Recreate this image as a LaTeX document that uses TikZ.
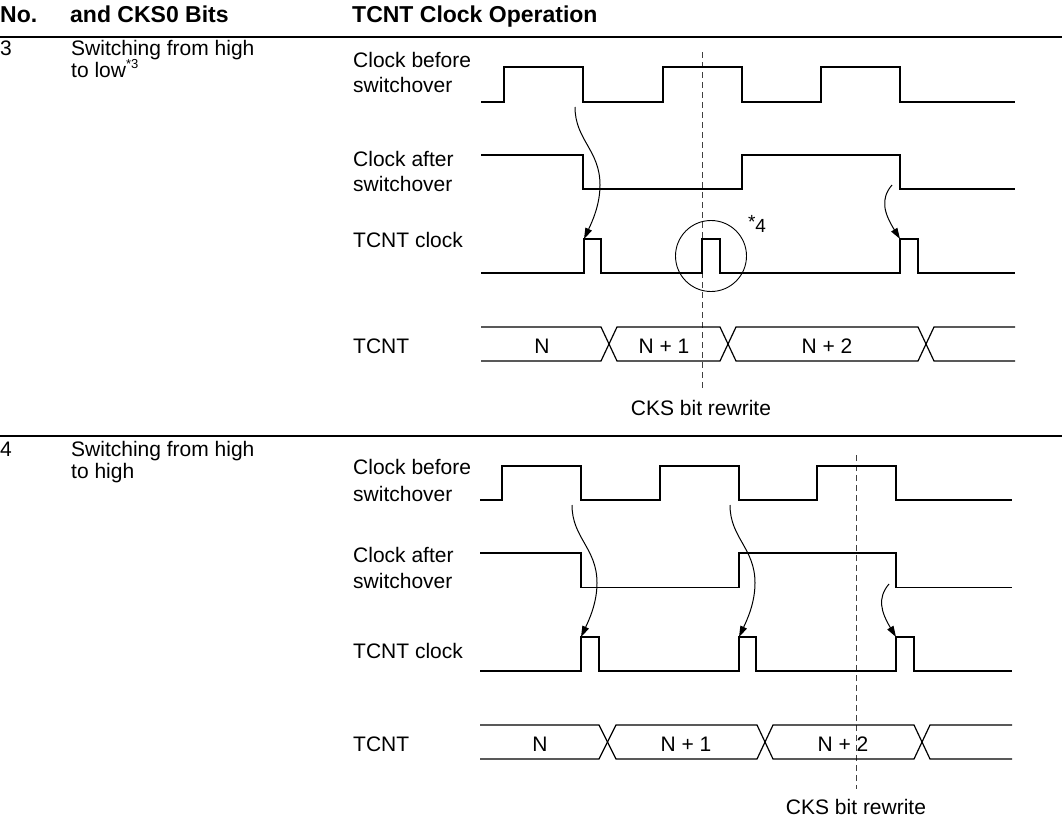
\documentclass[tikz,border=0pt]{standalone}
\usepackage{fontspec}
\setmainfont{Liberation Sans}
\usetikzlibrary{arrows.meta}
\begin{document}
\begin{tikzpicture}[x=1pt,y=-1pt,
  lbl/.style={anchor=base west, inner sep=0pt, font=\fontsize{21}{25}\selectfont},
  hdr/.style={anchor=base west, inner sep=0pt, font=\fontsize{23}{27}\selectfont\bfseries},
  val/.style={anchor=base, inner sep=0pt, font=\fontsize{21}{25}\selectfont},
  wave/.style={line width=1.4pt, line join=miter},
  bus/.style={line width=1.2pt},
  rew/.style={line width=1pt, black!75, dash pattern=on 6pt off 4pt},
  curv/.style={line width=1pt, -{Triangle[length=11pt,width=7pt]}},
  rule/.style={line width=1.5pt},
]
\useasboundingbox (0,0) rectangle (1062,819);

% header
\node[hdr] (hNo) at (0,23) {No.};
\node[hdr] (hBits) at (70,23) {and CKS0 Bits};
\node[hdr] (hOp) at (352,23) {TCNT Clock Operation};
\draw[line width=2.5pt] (0,37) -- (1062,37);

% ---------------- row 3 ----------------
\node[lbl] (n3) at (0,55) {3};
\node[lbl] (t3a) at (71,55) {Switching from high};
\node[lbl] (t3b) at (71,77) {to low\raisebox{9pt}{\fontsize{13}{13}\selectfont *3}};

\node[lbl] (c3b1) at (353,67) {Clock before};
\node[lbl] (c3b2) at (353,92) {switchover};
\node[lbl] (c3a1) at (353,166) {Clock after};
\node[lbl] (c3a2) at (353,191) {switchover};
\node[lbl] (c3t) at (353,247) {TCNT clock};
\node[lbl] (c3n) at (353,353) {TCNT};

\draw[rew] (702,52) -- (702,391);

\draw[wave] (481,102) -- (504,102) -- (504,67) -- (583,67) -- (583,102) -- (663,102) -- (663,67) -- (742,67) -- (742,102) -- (821,102) -- (821,67) -- (900,67) -- (900,102) -- (1015,102);
\draw[wave] (481,155) -- (583,155) -- (583,189) -- (742,189) -- (742,155) -- (900,155) -- (900,189) -- (1015,189);
\draw[wave] (481,273) -- (584,273) -- (584,239) -- (601,239) -- (601,273) -- (702,273) -- (702,239) -- (720,239) -- (720,273) -- (900,273) -- (900,239) -- (918,239) -- (918,273) -- (1015,273);

\draw[bus] (481,327) -- (601,327) -- (617,361) -- (720,361) -- (736,327) -- (918,327) -- (934,361) -- (1015,361);
\draw[bus] (481,361) -- (601,361) -- (617,327) -- (720,327) -- (736,361) -- (918,361) -- (934,327) -- (1015,327);
\node[val] (v3a) at (542,353) {N};
\node[val] (v3b) at (664,353) {N + 1};
\node[val] (v3c) at (827,353) {N + 2};

\node[val] (r3) at (701,415) {CKS bit rewrite};

\node[draw, circle, line width=0.9pt, minimum size=71pt, inner sep=0pt] (circ) at (711,256) {};
\node[inner sep=0pt, font=\fontsize{19}{19}\selectfont] (s4) at (757,224) {\raisebox{4pt}{*}4};

\coordinate (a31s) at (575,107);
\coordinate (a31m) at (600,185);
\coordinate (a31e) at (584,239);
\draw[curv] (a31s) .. controls (575,140) and (600,150) .. (a31m) .. controls (600,205) and (592,222) .. (a31e);
\coordinate (a32s) at (892,185);
\coordinate (a32e) at (900,239);
\draw[curv] (a32s) .. controls (880,199) and (884,213) .. (a32e);

\draw[rule] (0,436) -- (1062,436);

% ---------------- row 4 ----------------
\node[lbl] (n4) at (0,456) {4};
\node[lbl] (t4a) at (71,456) {Switching from high};
\node[lbl] (t4b) at (71,478) {to high};

\node[lbl] (c4b1) at (353,474) {Clock before};
\node[lbl] (c4b2) at (353,501) {switchover};
\node[lbl] (c4a1) at (353,562) {Clock after};
\node[lbl] (c4a2) at (353,588) {switchover};
\node[lbl] (c4t) at (353,658) {TCNT clock};
\node[lbl] (c4n) at (353,751) {TCNT};

\draw[rew] (856.5,455) -- (856.5,789);

\draw[wave] (480,500) -- (502,500) -- (502,466) -- (581,466) -- (581,500) -- (660,500) -- (660,466) -- (739,466) -- (739,500) -- (817,500) -- (817,466) -- (896,466) -- (896,500) -- (1012,500);
\draw[wave] (480,553) -- (581,553) -- (581,587.5) -- (739,587.5) -- (739,553) -- (896,553) -- (896,587.5) -- (1012,587.5);
\draw[wave] (480,671) -- (581,671) -- (581,637) -- (599,637) -- (599,671) -- (739,671) -- (739,637) -- (756,637) -- (756,671) -- (896,671) -- (896,637) -- (914,637) -- (914,671) -- (1012,671);

\draw[bus] (480,725) -- (599,725) -- (616,759) -- (757,759) -- (773,725) -- (914,725) -- (930,759) -- (1012,759);
\draw[bus] (480,759) -- (599,759) -- (616,725) -- (757,725) -- (773,759) -- (914,759) -- (930,725) -- (1012,725);
\node[val] (v4a) at (540,751) {N};
\node[val] (v4b) at (686,751) {N + 1};
\node[val] (v4c) at (843,751) {N + 2};

\node[val] (r4) at (856,814) {CKS bit rewrite};

\coordinate (a41s) at (572,505);
\coordinate (a41m) at (597,583);
\coordinate (a41e) at (581,637);
\draw[curv] (a41s) .. controls (572,538) and (597,548) .. (a41m) .. controls (597,603) and (589,620) .. (a41e);
\coordinate (a42s) at (730,505);
\coordinate (a42m) at (755,583);
\coordinate (a42e) at (739,637);
\draw[curv] (a42s) .. controls (730,538) and (755,548) .. (a42m) .. controls (755,603) and (747,620) .. (a42e);
\coordinate (a43s) at (889,584);
\coordinate (a43e) at (896,637);
\draw[curv] (a43s) .. controls (877,598) and (881,612) .. (a43e);
\end{tikzpicture}
\end{document}
